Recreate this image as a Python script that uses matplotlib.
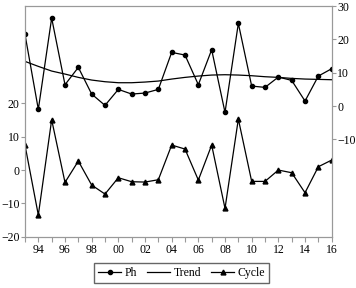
import numpy as np
import matplotlib.pyplot as plt

plt.rcParams['font.family'] = ['Liberation Serif', 'DejaVu Serif']

years = list(range(1993, 2017))
ph = [21.5, -1.0, 26.4, 6.4, 11.6, 3.6, 0.2, 5.0, 3.6, 3.9, 5.0, 16.1,
      15.3, 6.4, 16.9, -1.9, 24.8, 6.0, 5.6, 8.7, 7.7, 1.5, 9.0, 11.2]
trend = [13.4, 11.9, 10.5, 9.6, 8.6, 7.8, 7.3, 7.0, 7.0, 7.2, 7.5, 8.1,
         8.6, 9.0, 9.3, 9.4, 9.3, 9.1, 8.8, 8.6, 8.3, 8.1, 8.0, 7.9]
cycle = [7.5, -13.5, 15.1, -3.7, 2.7, -4.5, -7.2, -2.3, -3.5, -3.6, -2.9, 7.5,
         6.3, -3.0, 7.5, -11.5, 15.3, -3.4, -3.4, 0.0, -0.8, -6.8, 1.0, 3.0]
left_ticks = [-20, -10, 0, 10, 20]
right_ticks = [-10, 0, 10, 20, 30]
xlabels = ['94', '96', '98', '00', '02', '04', '06', '08', '10', '12', '14', '16']

fig = plt.figure(figsize=(3.56, 2.88), dpi=100)
ax = fig.add_axes([0.0702, 0.178, 0.8615, 0.801])
ax2 = ax.twinx()

l3, = ax.plot(years, cycle, color='black', lw=0.9, marker='^', ms=3.5, label='Cycle')
l1, = ax2.plot(years, ph, color='black', lw=0.9, marker='o', ms=3, label='Ph')
l2, = ax2.plot(years, trend, color='black', lw=0.9, label='Trend')

span = 69.2
ax.set_ylim(-20, -20 + span)
ax2.set_ylim(30 - span, 30)
ax.set_yticks(left_ticks)
ax2.set_yticks(right_ticks)
ax.set_xlim(1993, 2016)
ax.set_xticks(years, minor=True)
ax.set_xticks(list(range(1994, 2017, 2)))
ax.set_xticklabels(xlabels)

for a in (ax, ax2):
    for s in a.spines.values():
        s.set_color('#999999')
    a.tick_params(which='both', direction='out', length=3, width=0.8,
                  color='#999999', labelsize=8.5, pad=1)
ax.tick_params(axis='x', which='both', length=3.5, pad=2)

ax.legend([l1, l2, l3], ['Ph', 'Trend', 'Cycle'], loc='center',
          bbox_to_anchor=(0.51, 0.052), bbox_transform=fig.transFigure,
          ncol=3, fontsize=8.5, frameon=True, fancybox=False, edgecolor='#666666',
          handlelength=2.0, handletextpad=0.3, columnspacing=0.8,
          borderpad=0.3, framealpha=1)

fig.savefig('out.png', dpi=100)
